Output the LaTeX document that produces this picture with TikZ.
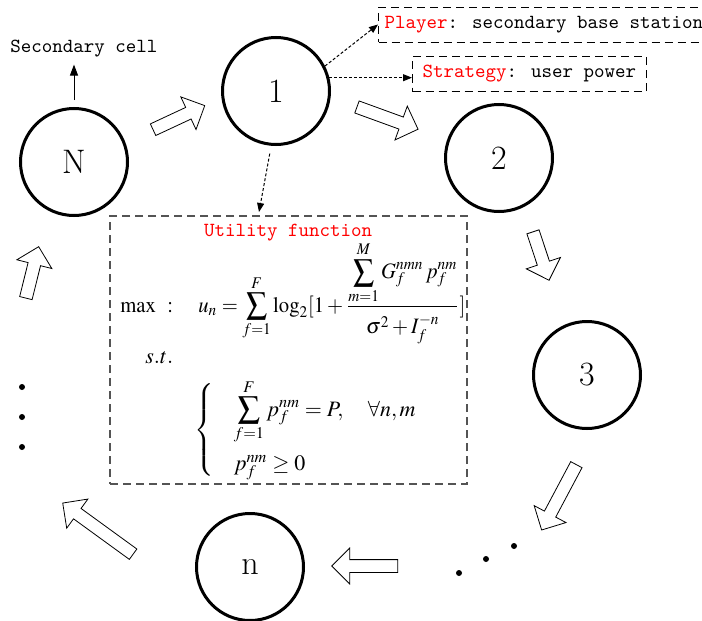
\documentclass[tikz,border=0pt]{standalone}
\usepackage{amsmath}
\usepackage{amssymb}
\usepackage{mathptmx}
\renewcommand{\rmdefault}{cmr}
\usetikzlibrary{arrows.meta,calc,shapes.arrows}
\definecolor{boxgray}{rgb}{0.33,0.33,0.33}
\tikzset{
  cell/.style={
    circle,
    draw,
    line width=1.5pt,
    minimum size=53.5pt,
    inner sep=0pt,
    font=\fontsize{17}{20}\selectfont
  },
  blockarr/.style={
    single arrow,
    draw,
    thin,
    fill=white,
    inner xsep=0pt,
    inner ysep=3pt,
    single arrow head extend=5.8pt
  },
  notebox/.style={
    draw,
    dash pattern=on 4pt off 2.5pt,
    line width=0.5pt,
    font=\ttfamily,
    inner xsep=3pt,
    minimum height=17.5pt
  },
  dot/.style={
    circle,
    fill,
    inner sep=0pt,
    minimum size=3pt
  },
  ptr/.style={
    -{Triangle[length=4.5pt,width=3.5pt]},
    dash pattern=on 1.5pt off 1pt,
    line width=0.5pt
  },
  formula/.style={
    inner sep=0pt,
    font=\fontsize{11}{13}\selectfont
  }
}

\begin{document}
\begin{tikzpicture}[x=0.5pt,y=-0.5pt]
\useasboundingbox (0,0) rectangle (702,621);

\node[cell] (cN) at (74,162) {N};
\node[cell] (c1) at (276,91) {1};
\node[cell] (c2) at (499,158) {2};
\node[cell] (c3) at (587,375) {3};
\node[cell] (cn) at (250,567) {n};

\node[font=\ttfamily] (seccell) at (84,49) {Secondary cell};
\node[notebox, anchor=west] (player) at (378,24.5) {\textcolor{red}{Player}: secondary base station};
\node[notebox, anchor=west, inner xsep=5pt] (strategy) at (412,74) {\textcolor{red}{Strategy}: user power};

\node[notebox, draw=boxgray, line width=0.7pt, minimum width=178.5pt, minimum height=134pt] (util) at (288.5,350) {};
\node[text=red, font=\ttfamily] (utitle) at (288,233) {Utility function};
\node[formula, anchor=base west] (maxln) at (120,312) {\scalebox{0.94}[1]{$\max\ :\quad u_n=\displaystyle\sum_{f=1}^{F}\log_{2}[1+\frac{\displaystyle\sum_{m=1}^{M}G_f^{nmn}\,p_f^{nm}}{\rule{0pt}{12pt}\sigma^2+I_f^{-n}}]$}};
\node[formula, anchor=base west] (st) at (145,363) {$s.t.$};
\node[formula, anchor=west] (cons) at (194,430) {$\left\{\begin{array}{l}\hspace{5pt}\displaystyle\sum_{f=1}^{F}p_f^{nm}=P,\quad\forall n,m\\[14pt]\hspace{5pt}p_f^{nm}\ge 0\end{array}\right.$};

\coordinate (utiltop) at (259,212);
\draw[ptr] (c1.27) -- (player.west);
\draw[ptr] (c1.14) -- (c1.14 -| strategy.west);
\draw[ptr, shorten <=4pt] (c1.265) -- (utiltop);
\draw[-{Triangle[length=5.5pt,width=4pt]}, line width=0.5pt, shorten <=3.5pt] (cN.north) -- (cN.north |- seccell.south);

\node[blockarr, minimum height=28.5pt, rotate=25] (bN1) at (176,119) {};
\node[blockarr, minimum height=32.5pt, rotate=-20] (b12) at (384.5,117) {};
\node[blockarr, minimum height=25.5pt, rotate=-71.6] (b23) at (540,253) {};
\node[blockarr, minimum height=37pt, rotate=-118] (b3d) at (560.5,494.5) {};
\node[blockarr, minimum height=33pt, rotate=180] (bdn) at (368,566) {};
\node[blockarr, minimum height=43.5pt, rotate=144] (bnd) at (100.5,530.5) {};
\node[blockarr, minimum height=26.5pt, rotate=76] (bdN) at (31.5,275.5) {};

\foreach \y [count=\i] in {387,417,447}
  \node[dot] (dl\i) at (22,\y) {};
\foreach \x/\y [count=\i] in {459/573,486/559,514/546}
  \node[dot] (db\i) at (\x,\y) {};
\end{tikzpicture}
\end{document}
